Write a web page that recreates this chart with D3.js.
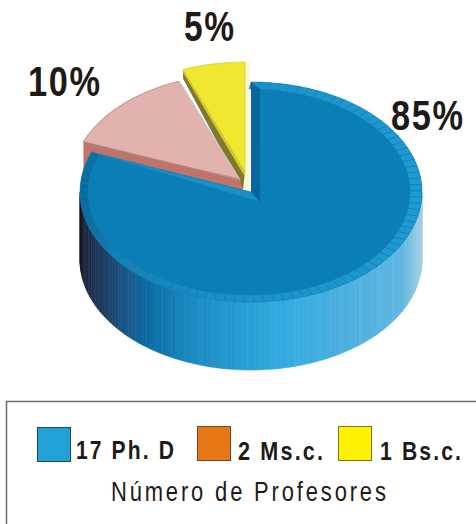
<!DOCTYPE html>
<html><head><meta charset="utf-8">
<script src="https://cdn.jsdelivr.net/npm/d3@7/dist/d3.min.js"></script>
<style>html,body{margin:0;padding:0;background:#fff}svg{display:block}</style>
</head><body><svg id="c" width="476" height="524"></svg>
<script>
// Data
const categories = ["17 Ph. D", "2 Ms.c.", "1 Bs.c."];
const professors = [17, 2, 1];
const percentLabels = ["85%", "10%", "5%"];
const drawnShares = [80.9, 13.2, 5.9];   // share of the circle each slice actually occupies in the drawing
const swatchColors = ["#22a1d6", "#e77818", "#fff200"];
const legendTitle = "Número de Profesores";

const svg = d3.select("#c");
const ink = "#1f1a17";
const font = "'Liberation Sans',Arial,sans-serif";

const pie = d3.pie().sort(null).value(d => d);
const arcs = pie(drawnShares);
const pt = (g, a, k = 1) => [g.cx + g.rx * k * Math.sin(a), g.cy - g.ry * k * Math.cos(a)];
const line = d3.line();
const samples = (a0, a1, n) => d3.range(n + 1).map(i => a0 + (a1 - a0) * i / n);

// Slice geometries (exploded centres)
const blue = {cx: 251, cy: 192, rx: 171, ry: 110};
const blueInner = {cx: 249, cy: 192, rx: 161, ry: 103};
const pink = {cx: 240, cy: 180, rx: 168, ry: 106};
const yellow = {cx: 245, cy: 172, rx: 171, ry: 110};
const depth = 68;

function sector(g, d, n = 60) {
  return line([[g.cx, g.cy], ...samples(d.startAngle, d.endAngle, n).map(a => pt(g, a))]) + "Z";
}

// Horizontally condense a text so that it spans the wanted width
function fitText(sel, xs, ys, widths, spacing) {
  sel.attr("transform", null).each(function (d, i) {
    const w = this.getComputedTextLength() - spacing;
    d3.select(this).attr("x", 0).attr("y", 0)
      .attr("transform", `translate(${xs[i]},${ys[i]}) scale(${widths[i] / w},1)`);
  });
}

// ---- yellow slice
const [dBlue, dPink, dYel] = arcs;
const yA = pt(yellow, dYel.startAngle), yB = pt(yellow, dYel.endAngle);
svg.append("path").attr("fill", "#fdf8d0").attr("d", line([[yB[0], yB[1]], [yB[0] + 5, yB[1]], [yellow.cx + 5, 192], [yellow.cx, 190]]) + "Z");
svg.append("path").attr("fill", "#80792f").attr("d", line([yA, [yellow.cx, yellow.cy], [yellow.cx - 2, 190], [yA[0], yA[1] + 9]]) + "Z");
svg.append("path").attr("fill", "#d6c92a").attr("d", line([yA, [yellow.cx, yellow.cy], [yellow.cx, yellow.cy + 5], [yA[0], yA[1] + 3]]) + "Z");
svg.append("path").attr("fill", "#efe82e").attr("stroke", "#c9bf3a").attr("stroke-width", .6).attr("d", sector(yellow, dYel, 20));

// ---- pink slice
const pA = pt(pink, dPink.startAngle);
svg.append("path").attr("fill", "#c0736a").attr("d", line([pA, [pink.cx, pink.cy], [pink.cx + 3, pink.cy + 12], [pA[0], pA[1] + 36]]) + "Z");
svg.append("path").attr("fill", "#e2b3ae").attr("stroke", "#a77a76").attr("stroke-width", .7).attr("d", sector(pink, dPink, 30));
svg.append("path").attr("fill", "none").attr("stroke", "#c9d0d0").attr("stroke-width", 1.2)
  .attr("d", line([pt(pink, dPink.endAngle), [pink.cx, pink.cy]]));
svg.append("path").attr("fill", "none").attr("stroke", "#b07f7a").attr("stroke-width", .7)
  .attr("d", line([[pA[0], pA[1] + 2], [pink.cx, pink.cy - 1]]));

// ---- blue wall
const wallColor = d3.scaleLinear()
  .domain([-1, -0.96, -0.72, -0.62, -0.35, 0, 0.2, 0.6, 0.88, 1])
  .range(["#14171f", "#1c2a45", "#1a5a8a", "#0a6aa0", "#1a8ac0", "#2aa0d5", "#35aade", "#50b0de", "#60b5e0", "#a5d0e0"]);
const facets = 110;
const wallAngles = samples(Math.PI / 2, 3 * Math.PI / 2, facets);
svg.append("g").selectAll("path").data(d3.pairs(wallAngles)).join("path")
  .attr("d", ([a, b]) => {
    const p = pt(blue, a), q = pt(blue, b);
    return line([p, q, [q[0], q[1] + depth], [p[0], p[1] + depth]]) + "Z";
  })
  .attr("fill", ([a, b], i) => {
    const c = d3.color(wallColor(Math.sin((a + b) / 2)));
    return (i % 5 === 0 ? c.brighter(0.06) : c).formatHex();
  })
  .attr("stroke", ([a, b]) => wallColor(Math.sin((a + b) / 2))).attr("stroke-width", .6);

// ---- blue top with faceted rim
const rimColor = d3.scaleLinear().domain([-1, -0.8, -0.2, 1]).range(["#0a6a9e", "#1580b5", "#1b90c8", "#1f9ad2"]);
const rimN = 88;
const rimAngles = samples(dBlue.startAngle, dBlue.endAngle, rimN);
svg.append("path").attr("fill", "#1b90c8").attr("d", sector(blue, dBlue, 160));
svg.append("g").selectAll("path").data(d3.pairs(rimAngles)).join("path")
  .attr("d", ([a, b]) => line([...samples(a, b, 4).map(t => pt(blue, t)), pt(blueInner, b), pt(blueInner, a)]) + "Z")
  .attr("fill", ([a, b]) => rimColor(Math.sin((a + b) / 2)))
  .attr("stroke", "#0f78aa").attr("stroke-width", .5);

const apex = [260, 202];
const innerStart = dBlue.startAngle + 0.07, innerEnd = dBlue.endAngle;
const innerPts = samples(innerStart, innerEnd, 160).map(a => pt(blueInner, a));
// cut faces of the blue slice
const outerTop = pt(blue, dBlue.startAngle), outerEnd = pt(blue, dBlue.endAngle);
svg.append("path").attr("fill", "#07669b").attr("d", line([outerTop, innerPts[0], apex, [blue.cx, blue.cy]]) + "Z");
svg.append("path").attr("fill", "#1690c8").attr("stroke", "#0c76a8").attr("stroke-width", .5)
  .attr("d", line([outerEnd, [blue.cx, blue.cy], apex, innerPts[innerPts.length - 1]]) + "Z");
svg.append("path").attr("fill", "#0b7fb5").attr("d", line([apex, ...innerPts]) + "Z");

// ---- percent labels
svg.append("g").selectAll("text").data(percentLabels).join("text")
  .attr("font-family", font).attr("font-weight", 700)
  .attr("font-size", 42).attr("letter-spacing", 2).attr("fill", ink).text(d => d)
  .call(fitText, [391, 28, 184], [130, 96, 41], [72, 72, 50], 2);

// ---- legend
svg.append("rect").attr("x", 6.5).attr("y", 401.5).attr("width", 490).attr("height", 140)
  .attr("fill", "#fff").attr("stroke", "#6b6b6b").attr("stroke-width", 1.5);
const swX = [37, 197, 338], swY = [427, 426, 426];
const swStroke = ["#1b4a66", "#6b4a2a", "#7a7418"];
svg.append("g").selectAll("rect").data(categories).join("rect")
  .attr("x", (d, i) => swX[i] + .5).attr("y", (d, i) => swY[i] + .5).attr("width", 33).attr("height", 34)
  .attr("fill", (d, i) => swatchColors[i]).attr("stroke", (d, i) => swStroke[i]).attr("stroke-width", 1);
svg.append("g").selectAll("text").data(categories).join("text")
  .attr("font-family", font).attr("font-weight", 700).attr("font-size", 25)
  .attr("letter-spacing", 2.5).attr("fill", ink).text(d => d)
  .call(fitText, [76, 238, 380], [459, 460, 460], [98, 85, 81], 2.5);
svg.append("text").datum(legendTitle).attr("font-family", font)
  .attr("font-size", 27).attr("letter-spacing", 3.5).attr("fill", ink).text(d => d)
  .call(fitText, [111], [501], [275], 3.5);
</script></body></html>
